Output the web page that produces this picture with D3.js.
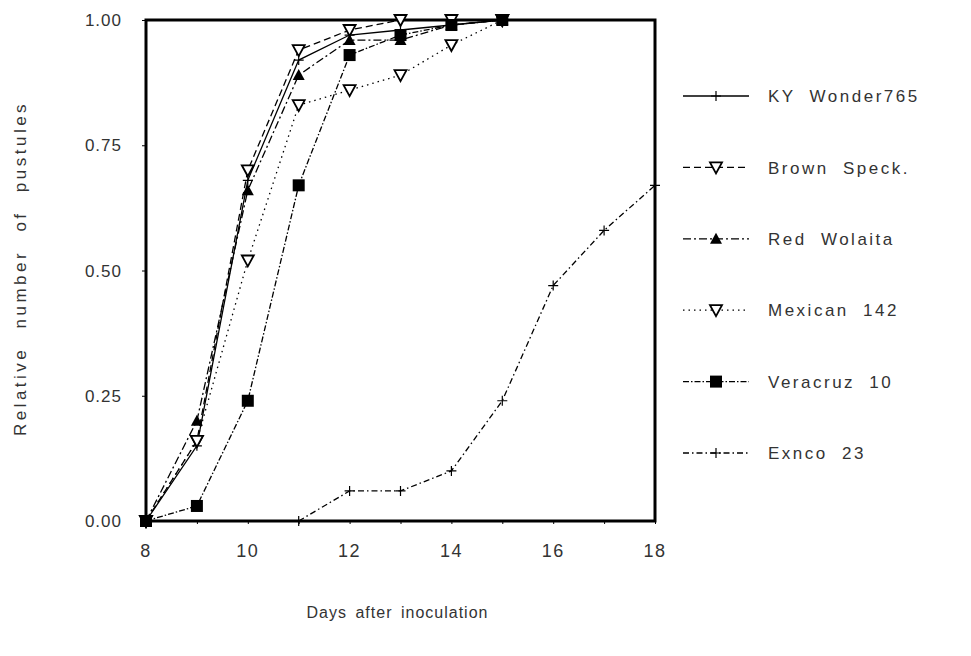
<!DOCTYPE html>
<html>
<head>
<meta charset="utf-8">
<script src="https://cdn.jsdelivr.net/npm/d3@7"></script>
<style>
  body { margin: 0; background: #fff; }
  svg { display: block; }
  text { font-family: "Liberation Sans", Arial, sans-serif; fill: #333; }
</style>
</head>
<body>
<svg id="chart" width="971" height="656"></svg>
<script>
// Tage nach Inokulation
const days = [8, 9, 10, 11, 12, 13, 14, 15];
const exncoDays = [11, 12, 13, 14, 15, 16, 17, 18];

// relative Pustelzahl je Sorte
const kyWonder = [0, 0.15, 0.68, 0.92, 0.97, 0.98, 0.99, 1.0];
const brownSpeck = [0, 0.16, 0.70, 0.94, 0.98, 1.0, 1.0, 1.0];
const redWolaita = [0, 0.20, 0.66, 0.89, 0.96, 0.96, 0.99, 1.0];
const mexican142 = [0, 0.16, 0.52, 0.83, 0.86, 0.89, 0.95, 1.0];
const veracruz10 = [0, 0.03, 0.24, 0.67, 0.93, 0.97, 0.99, 1.0];
const exnco23 = [0, 0.06, 0.06, 0.10, 0.24, 0.47, 0.58, 0.67];

const seriesNames = ["KY Wonder765", "Brown Speck.", "Red Wolaita", "Mexican 142", "Veracruz 10", "Exnco 23"];
const xTicks = [8, 10, 12, 14, 16, 18];
const yTicks = [0, 0.25, 0.5, 0.75, 1.0];

const series = [
  { name: seriesNames[0], x: days, y: kyWonder, dash: null, marker: "plus" },
  { name: seriesNames[1], x: days, y: brownSpeck, dash: "7,4", marker: "triDownOpen" },
  { name: seriesNames[2], x: days, y: redWolaita, dash: "8,3,2,3", marker: "triUp" },
  { name: seriesNames[3], x: days, y: mexican142, dash: "1.5,4", marker: "triDownOpen" },
  { name: seriesNames[4], x: days, y: veracruz10, dash: "6,2,1.5,2", marker: "square" },
  { name: seriesNames[5], x: exncoDays, y: exnco23, dash: "6,3,1.5,3", marker: "plus" }
];

const svg = d3.select("#chart");
const margin = { top: 20, left: 146 };
const width = 655 - 146;
const height = 521 - 20;

const g = svg.append("g").attr("transform", `translate(${margin.left},${margin.top})`);

const x = d3.scaleLinear().domain([8, 18]).range([0, width]);
const y = d3.scaleLinear().domain([0, 1]).range([height, 0]);

// Ticks
const xAxis = g.append("g")
  .attr("transform", `translate(0,${height})`)
  .call(d3.axisBottom(x).tickValues(d3.range(8, 19)).tickSize(3).tickFormat(""));
xAxis.select(".domain").remove();

g.selectAll("text.xlab")
  .data(xTicks)
  .enter().append("text")
    .attr("class", "xlab")
    .attr("x", d => x(d))
    .attr("y", height + 36)
    .attr("text-anchor", "middle")
    .attr("font-size", "18px")
    .attr("letter-spacing", "1.5px")
    .text(d => d);

const yAxis = g.append("g")
  .call(d3.axisLeft(y).tickValues(yTicks).tickSize(4).tickFormat(""));
yAxis.select(".domain").remove();

g.selectAll("text.ylab")
  .data(yTicks)
  .enter().append("text")
    .attr("class", "ylab")
    .attr("x", -24)
    .attr("y", d => y(d))
    .attr("dy", "0.36em")
    .attr("text-anchor", "end")
    .attr("font-size", "17px")
    .attr("letter-spacing", "1px")
    .text(d => d.toFixed(2));

// Rahmen
g.append("rect")
  .attr("width", width)
  .attr("height", height)
  .attr("fill", "none")
  .attr("stroke", "#000")
  .attr("stroke-width", 3);

// Achsentitel
g.append("text")
  .attr("x", width / 2 - 3)
  .attr("y", height + 97)
  .attr("text-anchor", "middle")
  .attr("font-size", "16px")
  .attr("letter-spacing", "1px")
  .attr("word-spacing", "3px")
  .text("Days after inoculation");

g.append("text")
  .attr("transform", "rotate(-90)")
  .attr("x", -height / 2 + 2)
  .attr("y", -120)
  .attr("text-anchor", "middle")
  .attr("font-size", "17px")
  .attr("letter-spacing", "3.5px")
  .attr("word-spacing", "10px")
  .text("Relative number of pustules");

function drawMarker(sel, type) {
  if (type === "plus") {
    sel.append("path").attr("d", "M-5,0H5M0,-5V5").attr("stroke", "#000").attr("stroke-width", 1.2).attr("fill", "none");
  } else if (type === "triDownOpen") {
    sel.append("path").attr("d", "M-6,-5L6,-5L0,6Z").attr("stroke", "#000").attr("stroke-width", 1.8).attr("fill", "#fff");
  } else if (type === "triUp") {
    sel.append("path").attr("d", "M-6,5L6,5L0,-6Z").attr("fill", "#000");
  } else if (type === "square") {
    sel.append("rect").attr("x", -6).attr("y", -6).attr("width", 12).attr("height", 12).attr("fill", "#000");
  }
}

const line = d3.line()
  .x(d => x(d[0]))
  .y(d => y(d[1]));

series.forEach(s => {
  const pts = s.x.map((d, i) => [d, s.y[i]]);
  g.append("path")
    .datum(pts)
    .attr("d", line)
    .attr("fill", "none")
    .attr("stroke", "#000")
    .attr("stroke-width", 1.3)
    .attr("stroke-dasharray", s.dash);
  pts.forEach(p => {
    const m = g.append("g").attr("transform", `translate(${x(p[0])},${y(p[1])})`);
    drawMarker(m, s.marker);
  });
});

// Legende
const legend = svg.append("g").attr("transform", "translate(683,0)");
const legendY = d3.scalePoint().domain(seriesNames).range([96, 453]);

series.forEach(s => {
  const row = legend.append("g").attr("transform", `translate(0,${legendY(s.name)})`);
  row.append("line")
    .attr("x1", 0).attr("x2", 66)
    .attr("stroke", "#000")
    .attr("stroke-width", 1.3)
    .attr("stroke-dasharray", s.dash);
  drawMarker(row.append("g").attr("transform", "translate(33,0)"), s.marker);
  row.append("text")
    .attr("x", 85)
    .attr("dy", "0.36em")
    .attr("font-size", "17px")
    .attr("letter-spacing", "2.5px")
    .attr("word-spacing", "7px")
    .text(s.name);
});
</script>
</body>
</html>
